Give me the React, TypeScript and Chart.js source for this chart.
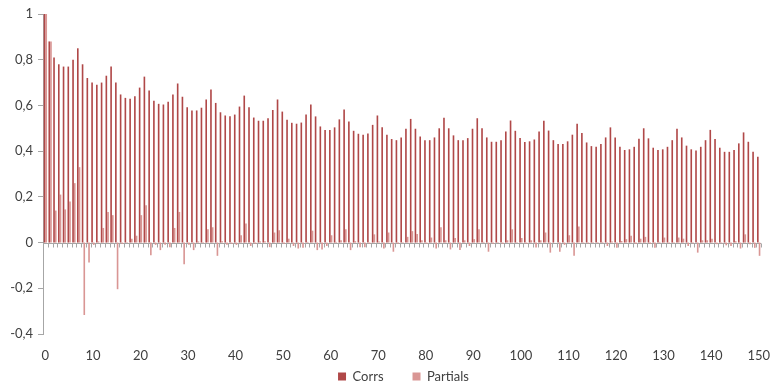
import { useEffect, useRef } from 'react';
import { Chart, registerables } from 'chart.js';

Chart.register(...registerables);

const lags: string[] = Array.from({ length: 151 }, (_, i) => String(i));

const corrs: number[] = [
  1, 0.88, 0.81, 0.78, 0.77, 0.77, 0.80, 0.85, 0.78, 0.72,
  0.70, 0.69, 0.70, 0.73, 0.77, 0.70, 0.648, 0.633, 0.629, 0.64,
  0.678, 0.726, 0.665, 0.62, 0.607, 0.604, 0.616, 0.648, 0.696, 0.638,
  0.592, 0.578, 0.578, 0.59, 0.626, 0.67, 0.611, 0.57, 0.556, 0.553,
  0.56, 0.595, 0.643, 0.592, 0.547, 0.533, 0.533, 0.544, 0.58, 0.626,
  0.573, 0.537, 0.524, 0.52, 0.525, 0.56, 0.604, 0.552, 0.508, 0.493,
  0.493, 0.504, 0.539, 0.582, 0.53, 0.489, 0.476, 0.472, 0.477, 0.515,
  0.556, 0.504, 0.472, 0.453, 0.448, 0.46, 0.498, 0.541, 0.498, 0.464,
  0.448, 0.448, 0.46, 0.50, 0.546, 0.50, 0.469, 0.448, 0.448, 0.457,
  0.498, 0.544, 0.50, 0.46, 0.441, 0.441, 0.448, 0.486, 0.534, 0.489,
  0.457, 0.44, 0.443, 0.451, 0.486, 0.533, 0.49, 0.448, 0.431, 0.431,
  0.443, 0.472, 0.52, 0.479, 0.438, 0.422, 0.419, 0.431, 0.46, 0.504,
  0.46, 0.419, 0.405, 0.408, 0.419, 0.454, 0.50, 0.456, 0.415, 0.405,
  0.408, 0.419, 0.448, 0.498, 0.46, 0.424, 0.408, 0.403, 0.419, 0.448,
  0.493, 0.453, 0.415, 0.397, 0.397, 0.405, 0.434, 0.482, 0.441, 0.397,
  0.376,
];

const partials: number[] = [
  1, 0.88, 0.14, 0.21, 0.145, 0.18, 0.26, 0.33, -0.317, -0.087,
  -0.01, 0.005, 0.064, 0.134, 0.12, -0.204, -0.005, 0.003, 0.017, 0.03,
  0.12, 0.163, -0.055, -0.01, -0.033, -0.01, -0.02, 0.064, 0.134, -0.095,
  -0.01, -0.033, 0.005, 0.003, 0.058, 0.067, -0.058, 0.006, -0.01, -0.005,
  -0.01, 0.032, 0.083, -0.015, -0.005, 0.005, 0.006, -0.02, 0.044, 0.054,
  -0.005, 0.017, -0.015, -0.026, -0.023, 0.003, 0.052, -0.033, -0.03, -0.015,
  0.032, 0.003, 0.01, 0.058, -0.033, 0.006, -0.02, -0.02, -0.005, 0.036,
  0.005, -0.026, 0.044, -0.04, -0.005, 0.003, 0.025, 0.05, 0.038, 0.01,
  -0.005, 0.022, -0.026, 0.067, 0.01, -0.03, 0.02, -0.033, 0.01, -0.015,
  0.015, 0.058, 0.003, -0.04, -0.005, 0.003, -0.005, 0.01, 0.058, 0.003,
  0.02, -0.005, 0.01, -0.022, 0.01, 0.044, -0.044, 0, -0.04, -0.01,
  0.032, -0.058, 0.07, -0.003, -0.004, 0.003, -0.003, 0.003, -0.015, 0.005,
  -0.023, 0.007, 0.015, 0.03, -0.005, 0.017, 0.025, -0.005, -0.023, 0.003,
  0.022, -0.003, 0.003, 0.022, 0.017, -0.015, -0.003, -0.044, 0.01, 0.01,
  0.017, -0.007, -0.003, -0.012, -0.015, 0.006, -0.026, 0.036, -0.007, -0.023,
  -0.058,
];

const yMin = -0.4;
const yMax = 1;
const yStep = 0.2;
const labelEvery = 10;

const FONT = 'Lato, "Open Sans", sans-serif';
const FONT_SIZE = 13;
const TEXT = '#404040';
const AXIS = '#A6A6A6';
const LEGEND_PAD = 29;

const zeroAxis = {
  id: 'zeroAxis',
  afterLayout(chart: any) {
    // place the legend row: wide item spacing, close under the axis labels, slightly right of centre
    const lg = chart.legend;
    if (lg) {
      lg.top -= 23;
      lg.bottom = chart.height;
      lg.height = lg.bottom - lg.top;
      lg.left += 18;
      lg.right += 18;
    }
  },
  beforeDatasetsDraw(chart: any) {
    const { ctx, chartArea, scales } = chart;
    const x = scales.x;
    const y = scales.y;
    const y0 = Math.round(y.getPixelForValue(0)) + 0.5;
    const step = x.getPixelForValue(1) - x.getPixelForValue(0);
    ctx.save();
    ctx.strokeStyle = AXIS;
    ctx.lineWidth = 1;
    ctx.beginPath();
    ctx.moveTo(chartArea.left, y0);
    ctx.lineTo(chartArea.right, y0);
    for (let i = 0; i <= lags.length; i++) {
      const bx = Math.round(x.getPixelForValue(0) - step / 2 + i * step) + 0.5;
      ctx.moveTo(bx, y0);
      ctx.lineTo(bx, y0 + 4);
    }
    ctx.stroke();
    ctx.restore();
  },
};

export default function App() {
  const ref = useRef<HTMLCanvasElement | null>(null);

  useEffect(() => {
    document.body.style.margin = '0';
    const canvas = ref.current;
    if (!canvas) return;
    const chart = new Chart(canvas, {
      type: 'bar',
      data: {
        labels: lags,
        datasets: [
          {
            label: 'Corrs',
            data: corrs,
            backgroundColor: '#B04848',
            borderWidth: 0,
          },
          {
            label: 'Partials',
            data: partials,
            backgroundColor: '#D99694',
            borderWidth: 0,
          },
        ],
      },
      options: {
        responsive: false,
        animation: false,
        devicePixelRatio: 1,
        layout: { padding: { top: 14, right: 0, left: 0, bottom: 0 } },
        datasets: {
          bar: {
            categoryPercentage: 0.72,
            barPercentage: 0.95,
          },
        },
        plugins: {
          tooltip: { enabled: false },
          legend: {
            position: 'bottom',
            maxHeight: 23,
            labels: {
              boxWidth: 8,
              boxHeight: 8,
              padding: LEGEND_PAD,
              color: TEXT,
              font: { family: FONT, size: FONT_SIZE },
            },
          },
        },
        scales: {
          x: {
            grid: {
              display: true,
              drawOnChartArea: false,
              drawTicks: true,
              tickLength: 13,
              tickColor: 'rgba(0,0,0,0)',
              color: 'rgba(0,0,0,0)',
            },
            border: { display: false },
            ticks: {
              autoSkip: false,
              maxRotation: 0,
              minRotation: 0,
              padding: 1,
              color: TEXT,
              font: { family: FONT, size: FONT_SIZE },
              callback: (_v: any, i: number) => (i % labelEvery === 0 ? lags[i] : ''),
            },
            afterFit: (s: any) => {
              s.height = 30;
            },
          },
          y: {
            min: yMin,
            max: yMax,
            grid: {
              display: true,
              drawOnChartArea: false,
              drawTicks: true,
              tickLength: 5,
              color: AXIS,
            },
            border: { display: true, color: AXIS },
            ticks: {
              stepSize: yStep,
              padding: 5,
              color: TEXT,
              font: { family: FONT, size: FONT_SIZE },
              callback: (v: any) => {
                const n = Math.round(Number(v) * 10) / 10;
                return String(n).replace('.', ',');
              },
            },
            afterFit: (s: any) => {
              s.width = 43;
            },
          },
        },
      },
      plugins: [zeroAxis],
    });
    return () => chart.destroy();
  }, []);

  return (
    <div style={{ width: 771, height: 387 }}>
      <canvas ref={ref} width={771} height={387} />
    </div>
  );
}
